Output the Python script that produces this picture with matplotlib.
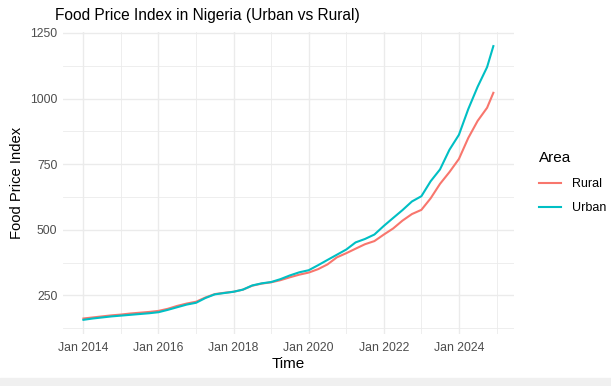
import numpy as np
import pandas as pd
import matplotlib
matplotlib.use("Agg")
import matplotlib.pyplot as plt
import matplotlib.dates as mdates
from matplotlib.patches import Rectangle

plt.rcParams["font.family"] = ["Liberation Sans", "DejaVu Sans"]

# quarterly readings, last point Dec 2024
dates = pd.to_datetime([
    "2014-01", "2014-04", "2014-07", "2014-10",
    "2015-01", "2015-04", "2015-07", "2015-10",
    "2016-01", "2016-04", "2016-07", "2016-10",
    "2017-01", "2017-04", "2017-07", "2017-10",
    "2018-01", "2018-04", "2018-07", "2018-10",
    "2019-01", "2019-04", "2019-07", "2019-10",
    "2020-01", "2020-04", "2020-07", "2020-10",
    "2021-01", "2021-04", "2021-07", "2021-10",
    "2022-01", "2022-04", "2022-07", "2022-10",
    "2023-01", "2023-04", "2023-07", "2023-10",
    "2024-01", "2024-04", "2024-07", "2024-10", "2024-12",
])
urban = [157, 162, 166, 170,
         173, 176, 179, 182,
         186, 195, 205, 215,
         222, 240, 254, 259,
         264, 272, 288, 296,
         301, 312, 326, 338,
         346, 365, 385, 405,
         425, 452, 465, 482,
         515, 545, 575, 608,
         628, 685, 730, 805,
         862, 960, 1045, 1120, 1200]
rural = [162, 166, 170, 174,
         177, 181, 184, 187,
         191, 199, 210, 219,
         226, 242, 255, 260,
         264, 272, 287, 295,
         300, 308, 319, 329,
         337, 350, 368, 395,
         411, 428, 445, 457,
         482, 505, 535, 560,
         576, 620, 675, 720,
         770, 850, 915, 965, 1022]

colors = {"Rural": "#F8766D", "Urban": "#00BFC4"}

fig = plt.figure(figsize=(6.11, 3.86), dpi=100)
ax = fig.add_axes([0.103, 0.136, 0.738, 0.78])

ax.plot(dates, rural, color=colors["Rural"], lw=1.5, label="Rural")
ax.plot(dates, urban, color=colors["Urban"], lw=1.5, label="Urban")

# ggplot-like expansion
x0, x1 = mdates.date2num(dates[0]), mdates.date2num(dates[-1])
pad = (x1 - x0) * 0.05
ax.set_xlim(x0 - pad, x1 + pad)
lo, hi = min(urban + rural), max(urban + rural)
ax.set_ylim(lo - (hi - lo) * 0.05, hi + (hi - lo) * 0.05)

ax.set_xticks([mdates.date2num(pd.Timestamp(f"{y}-01-01")) for y in range(2014, 2025, 2)])
ax.set_xticks([mdates.date2num(pd.Timestamp(f"{y}-01-01")) for y in range(2015, 2026, 2)], minor=True)
ax.xaxis.set_major_formatter(mdates.DateFormatter("Jan %Y"))
ax.set_yticks([250, 500, 750, 1000, 1250])
ax.set_yticks([125, 375, 625, 875, 1125], minor=True)

ax.grid(which="major", color="#EBEBEB", lw=1.0)
ax.grid(which="minor", color="#EBEBEB", lw=0.6)
ax.set_axisbelow(True)
for s in ax.spines.values():
    s.set_visible(False)
ax.tick_params(which="both", length=0, labelsize=8.8, labelcolor="#4D4D4D")
ax.tick_params(axis="x", pad=6)
ax.tick_params(axis="y", pad=4)

ax.set_xlabel("Time", fontsize=11, labelpad=2)
ax.set_ylabel("Food Price Index", fontsize=10.6, labelpad=4)
ax.set_title("Food Price Index in Nigeria (Urban vs Rural)", fontsize=11.2, loc="left", x=-0.018, pad=9)

leg = ax.legend(title="Area", loc="center left", bbox_to_anchor=(1.03, 0.5), frameon=False,
                fontsize=9, title_fontsize=11, handlelength=1.8, labelspacing=1.0,
                handletextpad=0.9)
leg._legend_box.align = "left"

fig.patches.append(Rectangle((0, 0), 1, 8 / 386, transform=fig.transFigure, color="#F0F0F0", zorder=-1))

fig.savefig("out.png", dpi=100)
